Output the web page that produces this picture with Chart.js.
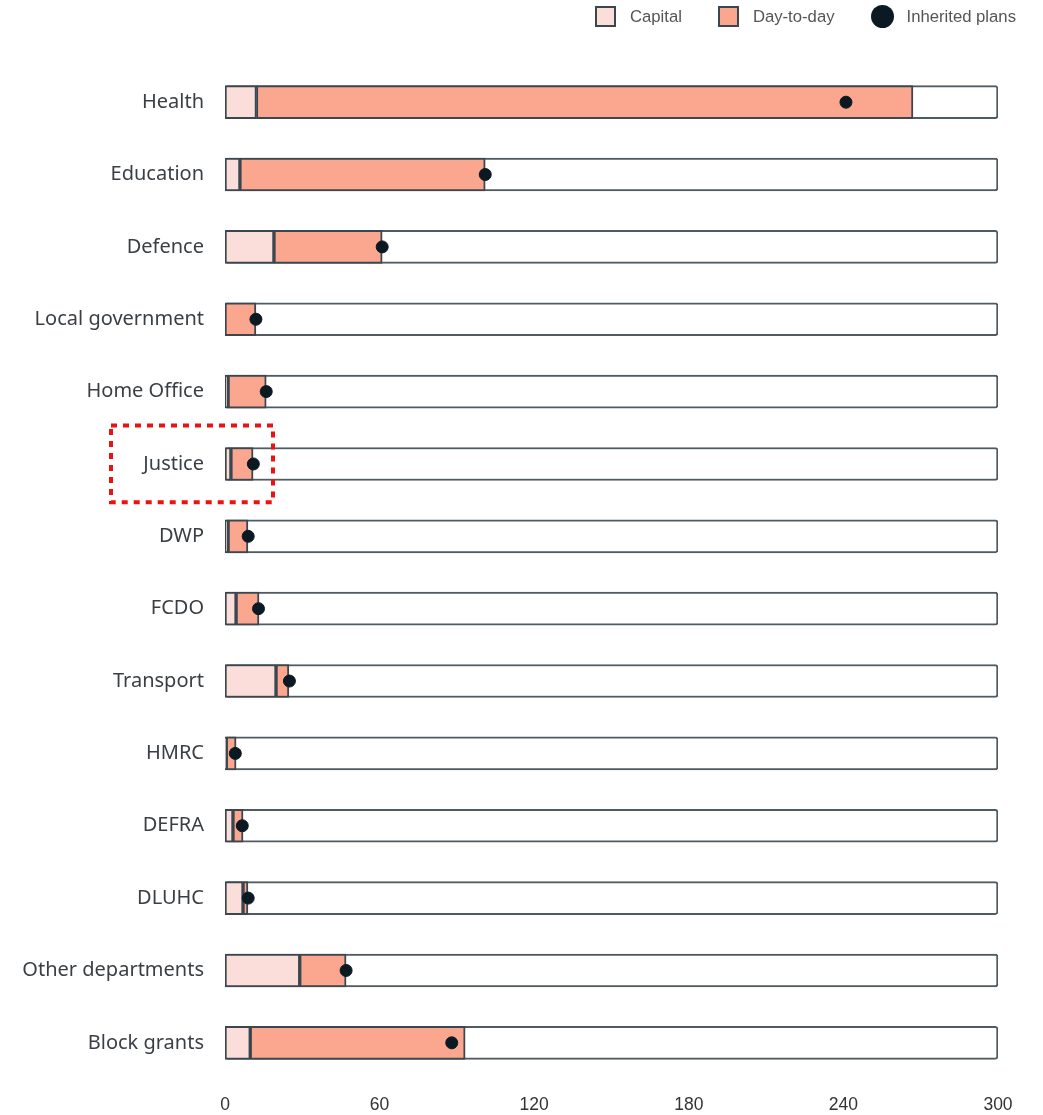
<!DOCTYPE html>
<html><head><meta charset="utf-8">
<script src="https://cdn.jsdelivr.net/npm/chart.js@4"></script>
<style>
html,body{margin:0;padding:0;background:#fff}
#wrap{position:relative;width:1043px;height:1115px}
#legend{position:absolute;top:5px;right:27px;display:flex;align-items:center;font-family:"Liberation Sans",Arial,sans-serif;font-size:16.7px;color:#555}
#legend .item{display:flex;align-items:center;margin-left:36px}
#legend .sw{width:17px;height:17px;border:2px solid #3b474e;margin-right:14px;box-sizing:content-box}
#legend .dot{width:23px;height:23px;border-radius:50%;margin-right:13px}
</style></head>
<body>
<div id="wrap"><canvas id="c" width="1043" height="1115"></canvas><div id="legend"></div></div>
<script>
const categories = ["Health","Education","Defence","Local government","Home Office","Justice","DWP","FCDO","Transport","HMRC","DEFRA","DLUHC","Other departments","Block grants"];
const capital    = [12.2, 5.8, 19, 0, 1.2, 2.3, 1.2, 4.3, 19.8, 0.5, 3.1, 7, 29, 9.8];
const dayToDay   = [254.8, 95.2, 42, 12, 14.8, 8.6, 7.7, 8.9, 5, 3.8, 3.9, 1.9, 18, 83.4];
const inherited  = [241, 101, 61, 12, 16, 11, 9, 13, 25, 4, 6.7, 9, 47, 88];
const xTicks     = [0, 60, 120, 180, 240, 300];
const axisMax    = 300;
const highlighted = "Justice";

const COL_CAP = "#fbdeda", COL_DAY = "#fba68f", COL_DOT = "#0b1a22", COL_EDGE = "#3b474e", COL_TRACK = "#4f5a61";

const track = categories.map(() => axisMax);

const highlightPlugin = {
  id: "highlight",
  afterDraw(chart) {
    const y = chart.scales.y, x = chart.scales.x;
    const i = categories.indexOf(highlighted);
    const cy = y.getPixelForValue(i);
    const row = y.getPixelForValue(1) - y.getPixelForValue(0);
    const ctx = chart.ctx;
    ctx.save();
    ctx.strokeStyle = "#ee1111";
    ctx.lineWidth = 4;
    ctx.setLineDash([6, 6]);
    ctx.strokeRect(x.left - 114, cy - row * 0.53, 162, row * 1.06);
    ctx.restore();
  }
};

const chart = new Chart(document.getElementById("c"), {
  type: "bar",
  data: {
    labels: categories,
    datasets: [
      { label: "Capital", data: capital, backgroundColor: COL_CAP, borderColor: COL_EDGE, borderWidth: 2, borderSkipped: false, stack: "main", order: 1, grouped: false, barThickness: 33 },
      { label: "Day-to-day", data: dayToDay, backgroundColor: COL_DAY, borderColor: COL_EDGE, borderWidth: 2, borderSkipped: false, stack: "main", order: 1, grouped: false, barThickness: 33 },
      { label: "track", data: track, backgroundColor: "#ffffff", borderColor: COL_TRACK, borderWidth: 2, borderSkipped: false, borderRadius: 3, stack: "track", order: 3, grouped: false, barThickness: 33 },
      { type: "scatter", label: "Inherited plans", data: categories.map((c, i) => ({ x: inherited[i], y: c })), backgroundColor: COL_DOT, borderColor: COL_DOT, pointRadius: 6, pointHoverRadius: 6, order: 0 }
    ]
  },
  options: {
    indexAxis: "y",
    responsive: false,
    animation: false,
    layout: { padding: { top: 66, right: 45, bottom: 0, left: 0 } },
    plugins: { legend: { display: false }, tooltip: { enabled: false } },
    scales: {
      x: {
        type: "linear", stacked: true, min: 0, max: axisMax,
        afterBuildTicks(s) { s.ticks = xTicks.map(v => ({ value: v })); },
        grid: { display: false, drawTicks: false }, border: { display: false },
        ticks: { padding: 16, color: "#333", font: { family: "Liberation Sans", size: 17.5 } },
        afterFit(s) { s.height = 36; }
      },
      y: {
        type: "category", stacked: true, offset: true,
        grid: { display: false, drawTicks: false }, border: { display: false },
        ticks: { padding: 21, color: "#3a3f44", font: { family: "Noto Sans", size: 20 } },
        afterFit(s) { s.width = 225; }
      }
    }
  },
  plugins: [highlightPlugin]
});

// HTML legend built from dataset definitions
const lg = document.getElementById("legend");
chart.data.datasets.filter(d => d.label !== "track").forEach(d => {
  const it = document.createElement("div"); it.className = "item";
  const sw = document.createElement("span");
  if (d.type === "scatter") { sw.className = "dot"; sw.style.background = d.backgroundColor; }
  else { sw.className = "sw"; sw.style.background = d.backgroundColor; }
  const t = document.createElement("span"); t.textContent = d.label;
  it.appendChild(sw); it.appendChild(t); lg.appendChild(it);
});
</script>
</body></html>
